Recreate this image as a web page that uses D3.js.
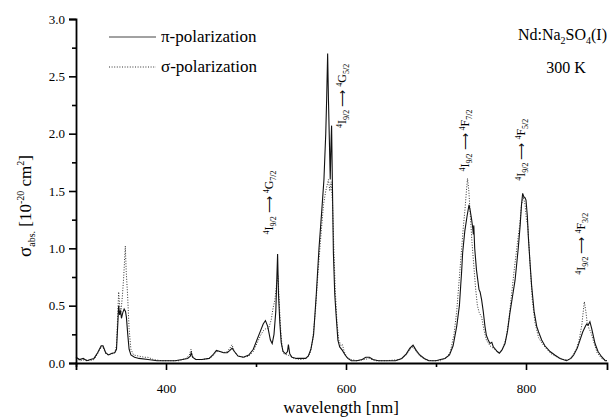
<!DOCTYPE html>
<html><head><meta charset="utf-8">
<script src="https://cdn.jsdelivr.net/npm/d3@7"></script>
<style>body{margin:0;background:#fff;}</style></head>
<body><svg id="c" width="616" height="419"></svg>
<script>
// pi-polarization
const piWl = [300,304,308,312,316,320,324,328,330,333,336,340,343,345,346.5,347.4,348.5,349.5,350.5,352,353.5,355,356,357.5,359,361,365,370,380,390,400,410,418,424,427,428,429.5,433,440,448,452,456,460,464,468,471,473.5,476,480,486,492,497,501,505,508,510.5,513,516,518,520,522,523,524,525,526.5,528,530,533,535,536,537.5,540,545,550,555,558,561,564,567,570,573,575.5,577.5,578.5,579.6,580.5,581.5,582.5,583.3,584,585,586,587.5,589,591,593,596,599,602,606,612,618,622,626,630,636,645,655,662,667,671,674.5,678,682,687,692,700,705,710,715,719,723,726,727.4,728.5,729.6,732,734.5,736.7,738,739.6,740.8,741.5,742,743,745,747.8,749,750.7,752.5,754.4,756,758,760,762,763.7,766,768,770.4,773,776.7,779.5,782,785,787.8,789.5,791.5,793.5,795,796.3,797.5,799,800,801.5,802.6,804.5,806.3,809,811.9,814,815.5,817.4,821,826.7,832,837.8,845,850,853,857,860,863,866,867.4,869,871,873,876.7,880,884,888,890];
const piVal = [0.05,0.03,0.04,0.02,0.03,0.04,0.09,0.15,0.15,0.09,0.07,0.085,0.09,0.12,0.35,0.5,0.42,0.46,0.39,0.44,0.47,0.45,0.40,0.25,0.12,0.07,0.05,0.04,0.03,0.02,0.02,0.02,0.03,0.04,0.06,0.09,0.05,0.03,0.03,0.04,0.07,0.11,0.10,0.09,0.09,0.11,0.13,0.10,0.06,0.05,0.07,0.12,0.2,0.28,0.34,0.37,0.32,0.2,0.17,0.25,0.45,0.7,0.95,0.6,0.35,0.18,0.1,0.08,0.1,0.16,0.08,0.05,0.04,0.04,0.04,0.06,0.12,0.25,0.6,1.0,1.32,1.6,2.0,2.3,2.70,2.3,1.95,1.6,1.9,2.07,1.5,0.96,0.6,0.42,0.2,0.14,0.11,0.07,0.04,0.02,0.02,0.03,0.05,0.05,0.03,0.02,0.02,0.02,0.04,0.08,0.13,0.155,0.11,0.07,0.04,0.02,0.02,0.03,0.04,0.07,0.15,0.32,0.5,0.67,0.8,0.96,1.15,1.28,1.38,1.33,1.25,1.18,1.12,1.2,1.0,0.81,0.64,0.62,0.55,0.45,0.32,0.24,0.2,0.17,0.18,0.14,0.12,0.1,0.085,0.11,0.17,0.28,0.43,0.58,0.72,0.85,1.01,1.2,1.38,1.48,1.45,1.44,1.42,1.28,1.1,0.87,0.67,0.45,0.32,0.27,0.24,0.2,0.15,0.1,0.07,0.04,0.02,0.04,0.07,0.13,0.2,0.27,0.32,0.34,0.33,0.36,0.3,0.17,0.1,0.055,0.02,0.02];
// sigma-polarization
const sigWl = [300,305,310,315,320,324,328,330,333,336,340,343,345,346.5,347.4,348.5,350,351.5,353,354.8,355.8,357.4,359,361,364,370,376,380,386,395,405,415,422,426,427.8,429.5,433,440,448,452,456,460,464,468,471,473.3,476,480,486,492,497,501,505,508,511,514,517,519,521,523,524.5,526,527.5,529,531,535,538,542,550,556,560,563,566,569,572,575,577.5,579,580.5,582,583.5,585,586.5,588,590,592,594.5,596,598,601,606,612,620,626,632,645,660,667,671,674.5,678,682,688,695,705,712,716,720,723,726,728.5,730.5,732,734,735,736.5,738,740,742,744,746,748,750.7,753,756,760,765,770,774,778,781,784,787,789,791,793,795,797,799,800.5,802,803.5,805,807,810,814,818,822,828,835,842,848,852,856,859,862,864.8,866.5,868,870,872,875,879,884,890];
const sigVal = [0.04,0.02,0.03,0.02,0.03,0.08,0.14,0.14,0.08,0.07,0.08,0.09,0.15,0.45,0.62,0.5,0.45,0.58,0.75,1.02,0.8,0.58,0.3,0.12,0.07,0.06,0.05,0.05,0.03,0.02,0.02,0.02,0.04,0.07,0.12,0.06,0.03,0.03,0.04,0.06,0.1,0.1,0.09,0.1,0.13,0.16,0.1,0.06,0.05,0.06,0.1,0.17,0.24,0.28,0.3,0.3,0.38,0.48,0.55,0.7,0.76,0.5,0.28,0.14,0.08,0.07,0.06,0.04,0.03,0.04,0.08,0.2,0.45,0.8,1.1,1.38,1.5,1.55,1.6,1.5,1.58,1.4,1.0,0.65,0.35,0.2,0.15,0.16,0.1,0.05,0.03,0.02,0.03,0.04,0.02,0.02,0.03,0.07,0.12,0.14,0.1,0.06,0.03,0.02,0.02,0.05,0.1,0.25,0.45,0.75,1.0,1.2,1.32,1.52,1.61,1.5,1.3,1.05,0.85,0.65,0.5,0.44,0.4,0.3,0.2,0.15,0.12,0.09,0.12,0.22,0.38,0.6,0.82,0.95,1.08,1.2,1.38,1.45,1.38,1.25,1.2,1.0,0.8,0.55,0.35,0.22,0.17,0.13,0.08,0.05,0.03,0.03,0.07,0.12,0.2,0.33,0.535,0.45,0.35,0.3,0.27,0.19,0.09,0.04,0.02];

const xMajor = [400,600,800];
const xMinor = [300,500,700];
const yMajor = [0,0.5,1.0,1.5,2.0,2.5,3.0];
const yMinor = [0.25,0.75,1.25,1.75,2.25,2.75];

// transition labels: centre position (wavelength, value), upper level, J
const transNm = [519,600,737,799,866];
const transY = [1.40,2.33,1.94,1.86,1.04];
const transUpper = ["G","G","F","F","F"];
const transJ = ["7/2","5/2","7/2","5/2","3/2"];

const svg = d3.select("#c");
const x = d3.scaleLinear().domain([300,890]).range([76,607]);
const y = d3.scaleLinear().domain([0,3]).range([363,19]);

const line = d3.line().x(d=>x(d[0])).y(d=>y(d[1]));
const piData = piWl.map((w,i)=>[w,piVal[i]]);
const sigData = sigWl.map((w,i)=>[w,sigVal[i]]);

svg.append("path").datum(sigData).attr("d",line)
  .attr("fill","none").attr("stroke","#333").attr("stroke-width",1)
  .attr("stroke-dasharray","1,1.6");
svg.append("path").datum(piData).attr("d",line)
  .attr("fill","none").attr("stroke","#111").attr("stroke-width",1.1);

// axes
const gx = svg.append("g").attr("transform","translate(0,363)");
gx.call(d3.axisBottom(x).tickValues(xMajor).tickSize(7).tickFormat(d3.format("d")));
const gxm = svg.append("g").attr("transform","translate(0,363)");
gxm.call(d3.axisBottom(x).tickValues(xMinor).tickSize(4).tickFormat(""));
const gy = svg.append("g").attr("transform","translate(76,0)");
gy.call(d3.axisLeft(y).tickValues(yMajor).tickSize(7).tickFormat(d3.format(".1f")));
const gym = svg.append("g").attr("transform","translate(76,0)");
gym.call(d3.axisLeft(y).tickValues(yMinor).tickSize(4).tickFormat(""));
[gx,gxm,gy,gym].forEach(g=>{
  g.attr("font-family",null).attr("font-size",null);
  g.select(".domain").attr("stroke","#000").attr("stroke-width",1.8);
  g.selectAll(".tick line").attr("stroke","#000").attr("stroke-width",1.6);
  g.selectAll("text").attr("font-size",13).attr("fill","#000");
});
gy.selectAll(".tick text").attr("x",-11);
gx.selectAll(".tick text").attr("dy","1.55em");
gxm.select(".domain").remove(); gym.select(".domain").remove();

const root = svg.append("g");
// axis titles
root.append("text").attr("x",341).attr("y",413).attr("text-anchor","middle")
  .attr("font-size",17).text("wavelength [nm]");
const yl = root.append("text").attr("transform","translate(31,206) rotate(-90)")
  .attr("text-anchor","middle").attr("font-size",17);
yl.append("tspan").attr("font-size",19).text("σ");
yl.append("tspan").attr("font-size",10).attr("dy",4).text("abs.");
yl.append("tspan").attr("dy",-4).text(" [10");
yl.append("tspan").attr("font-size",10).attr("dy",-7).text("-20");
yl.append("tspan").attr("dy",7).text(" cm");
yl.append("tspan").attr("font-size",10).attr("dy",-7).text("2");
yl.append("tspan").attr("dy",7).text("]");

// legend
root.append("line").attr("x1",109).attr("x2",156).attr("y1",37).attr("y2",37)
  .attr("stroke","#444").attr("stroke-width",1);
root.append("line").attr("x1",109).attr("x2",156).attr("y1",67).attr("y2",67)
  .attr("stroke","#333").attr("stroke-width",1).attr("stroke-dasharray","1,1.6");
root.append("text").attr("x",161).attr("y",42).attr("font-size",17).text("π-polarization");
root.append("text").attr("x",161).attr("y",72).attr("font-size",17).text("σ-polarization");

// sample labels
const t1 = root.append("text").attr("x",607).attr("y",40).attr("text-anchor","end").attr("font-size",16);
t1.append("tspan").text("Nd:Na");
t1.append("tspan").attr("font-size",10).attr("dy",4).text("2");
t1.append("tspan").attr("dy",-4).text("SO");
t1.append("tspan").attr("font-size",10).attr("dy",4).text("4");
t1.append("tspan").attr("dy",-4).text("(I)");
root.append("text").attr("x",566).attr("y",73).attr("text-anchor","middle").attr("font-size",16).text("300 K");

// transition annotations (rotated)
transNm.forEach((w,i)=>{
  const t = root.append("text").attr("transform",`translate(${x(w)},${y(transY[i])}) rotate(-90)`)
    .attr("text-anchor","middle").attr("dy","0.35em").attr("font-size",12);
  t.append("tspan").attr("font-size",8).attr("dy",-4).text("4");
  t.append("tspan").attr("dy",4).text("I");
  t.append("tspan").attr("font-size",8).attr("dy",3).text("9/2");
  t.append("tspan").attr("dy",-3).text(" ⟶ ");
  t.append("tspan").attr("font-size",8).attr("dy",-4).text("4");
  t.append("tspan").attr("dy",4).text(transUpper[i]);
  t.append("tspan").attr("font-size",8).attr("dy",3).text(transJ[i]);
});

// serif face via the font shorthand on every text element
svg.selectAll("text").each(function(){
  const s = this.getAttribute("font-size") || 13;
  d3.select(this).style("font", `${s}px 'Liberation Serif'`);
});
svg.selectAll("tspan").each(function(){
  const s = this.getAttribute("font-size");
  if (s) d3.select(this).style("font-size", `${s}px`);
});
</script></body></html>
